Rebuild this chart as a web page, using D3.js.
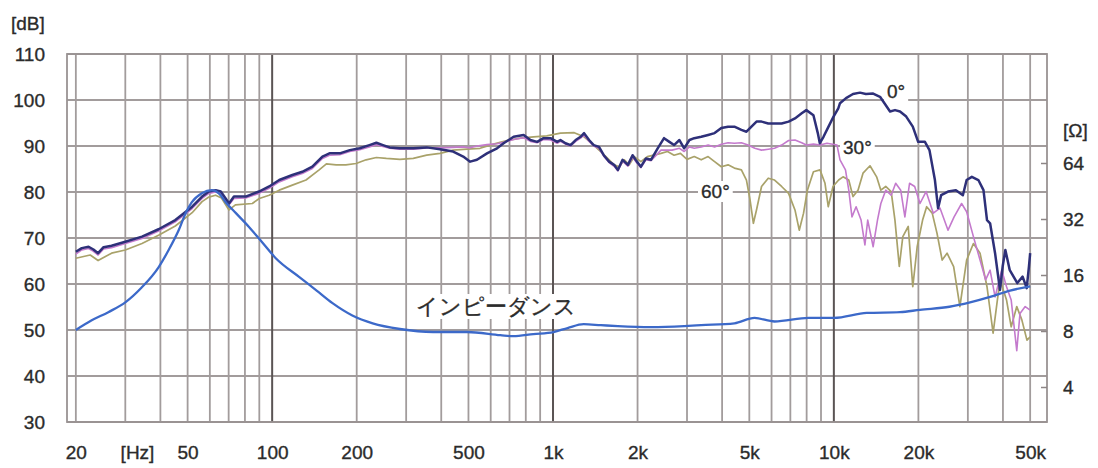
<!DOCTYPE html>
<html>
<head>
<meta charset="utf-8">
<script src="https://cdn.jsdelivr.net/npm/d3@7"></script>
<style>
  html, body { margin: 0; padding: 0; background: #fff; }
  svg { display: block; }
  text { font-family: "Liberation Sans", Arial, sans-serif; fill: #2b2b2b; }
  .heavy { stroke: #2b2b2b; stroke-width: 0.35px; }
</style>
</head>
<body>
<svg id="chart" width="1098" height="468"></svg>
<script>
// On-axis and off-axis sound pressure level, [Hz, dB]
const response0 = [
  [20,67.0],[21,67.8],[22.2,68.1],[23.1,67.5],[24,66.7],[25.1,68.0],[26.8,68.3],[30,69.2],[34.4,70.3],
  [39.4,71.9],[45.2,73.9],[51.9,76.8],[56.3,79.0],[59.5,80.1],[62.9,80.4],[65.6,80.1],[68.3,78.6],
  [70.2,77.5],[73.1,79.0],[80.5,79.0],[89.8,80.1],[97.6,81.2],[106,82.6],[118,83.7],[128,84.4],
  [139,85.5],[151,87.7],[160,88.4],[174,88.4],[189,89.1],[205,89.5],[222,90.2],[235,90.7],[248,90.2],
  [262,89.7],[285,89.5],[318,89.5],[355,89.7],[396,89.3],[441,88.8],[479,87.7],[507,86.6],[536,87.0],
  [582,88.4],[632,89.5],[667,90.6],[724,92.0],[786,92.4],[831,91.3],[878,90.9],[925,91.7],[980,91.7],
  [1035,90.9],[1063,91.3],[1108,90.6],[1155,90.2],[1204,91.3],[1254,92.0],[1290,92.8],[1344,91.3],
  [1396,90.2],[1458,89.8],[1516,88.0],[1584,86.6],[1650,85.9],[1702,84.8],[1769,87.0],[1848,85.9],
  [1920,88.0],[1989,86.6],[2056,85.5],[2143,87.3],[2233,87.0],[2359,89.5],[2485,91.7],[2596,90.9],
  [2698,90.2],[2819,91.3],[2931,89.5],[3061,91.3],[3183,91.7],[3371,92.0],[3567,92.4],[3761,92.8],
  [3975,93.9],[4201,94.2],[4424,94.2],[4686,93.5],[4884,93.1],[5089,94.2],[5303,95.3],[5527,95.3],
  [5840,94.9],[6150,94.9],[6516,94.9],[6900,95.3],[7270,96.0],[7683,97.1],[7980,97.8],[8458,96.7],
  [8766,92.8],[8913,90.6],[9186,92.0],[9572,94.2],[9975,96.4],[10370,98.2],[10516,99.3],[11050,100.4],
  [11700,101.3],[12390,101.6],[13000,101.3],[13800,101.4],[14600,100.7],[15140,99.3],[15850,97.5],
  [16510,97.8],[17200,97.5],[18100,96.4],[19100,94.2],[19960,90.9],[21100,90.9],[21900,89.1],
  [22900,82.6],[23500,76.5],[24100,79.3],[25500,80.1],[27200,80.4],[28800,79.3],[29700,82.6],
  [31000,83.3],[32700,82.6],[34100,80.4],[35100,73.9],[36000,73.2],[37500,66.7],[39040,58.7],
  [39900,63.8],[40800,67.4],[42300,63.0],[45000,60.2],[47000,61.6],[48600,59.1],[49500,63.8],[50000,66.7]
];

const response30 = [
  [20,66.5],[21,67.4],[22.2,67.7],[23.1,67.1],[24,66.3],[25.1,67.6],[26.8,67.9],[30,68.8],[34.4,69.9],
  [39.4,71.5],[45.2,73.5],[51.9,76.4],[56.3,78.6],[59.5,79.7],[62.9,80.0],[65.6,79.7],[68.3,78.2],
  [70.2,77.2],[73.1,78.6],[80.5,78.7],[89.8,79.7],[97.6,80.8],[106,82.2],[118,83.3],[128,84.0],
  [139,85.1],[151,87.3],[160,88.0],[174,88.1],[189,88.8],[205,89.2],[222,89.8],[235,90.3],[248,89.9],
  [262,89.5],[285,89.3],[318,89.3],[355,89.6],[396,89.6],[441,89.7],[479,89.8],[507,89.6],[536,90.0],
  [582,90.3],[632,90.5],[667,90.8],[724,91.4],[786,91.8],[831,91.0],[878,90.7],[925,91.4],[980,91.3],
  [1035,90.6],[1063,91.0],[1108,90.4],[1155,90.0],[1204,91.0],[1254,91.7],[1290,92.4],[1344,91.0],
  [1396,90.0],[1458,89.5],[1516,87.8],[1584,86.4],[1650,85.6],[1702,84.6],[1769,86.7],[1848,85.6],
  [1920,87.6],[1989,86.3],[2056,85.3],[2143,87.0],[2233,86.8],[2424,89.1],[2654,89.1],[2819,89.5],
  [2931,88.8],[3061,89.8],[3183,89.5],[3371,89.8],[3567,90.2],[3761,89.8],[3975,90.4],[4201,90.7],
  [4424,90.6],[4686,90.7],[4950,90.2],[5230,89.5],[5527,89.1],[5840,89.3],[6150,89.5],[6516,90.2],
  [6900,91.2],[7270,91.3],[7683,90.7],[7980,90.2],[8458,90.4],[8926,90.2],[9452,90.6],[10262,90.2],
  [10516,87.0],[11000,84.8],[11300,80.4],[11600,74.6],[12000,76.8],[12500,73.9],[12900,68.5],
  [13200,73.9],[13800,68.1],[14300,73.9],[14700,77.5],[15300,80.4],[16000,79.3],[16600,81.9],
  [17300,80.4],[17900,74.6],[18600,81.9],[19400,81.2],[20260,77.5],[21300,80.1],[22600,75.4],
  [23870,76.5],[25500,71.7],[26800,74.6],[28500,77.5],[29700,75.7],[31400,70.3],[33150,65.2],
  [34700,60.9],[36000,63.0],[37500,57.2],[39600,63.0],[41200,59.4],[42800,56.5],[44800,45.5],
  [46000,53.6],[48000,55.1],[50000,54.3]
];

const response60 = [
  [20,65.6],[22.5,66.3],[24,65.1],[26.8,66.7],[30,67.4],[34.4,68.8],[39.4,70.6],[45.2,72.6],[51.9,75.5],
  [56.3,77.9],[59.5,78.9],[62.9,79.3],[66,78.7],[70.2,76.1],[74,77.2],[85,77.5],[90,78.6],[97.6,79.3],
  [106,80.4],[118,81.5],[132,82.6],[147,84.8],[156,86.1],[169,85.9],[183,85.9],[199,86.2],[216,87.0],
  [235,87.5],[255,87.3],[285,87.1],[318,87.3],[355,88.0],[396,88.4],[441,89.1],[494,89.3],[550,89.5],
  [614,90.4],[685,91.2],[765,91.7],[853,92.0],[950,92.2],[1063,92.8],[1190,92.9],[1290,92.0],
  [1396,90.2],[1478,88.8],[1565,87.3],[1650,85.9],[1722,85.5],[1794,87.0],[1868,85.9],[1947,87.7],
  [2056,86.6],[2167,87.7],[2284,88.0],[2424,88.4],[2557,88.8],[2698,88.0],[2843,88.4],[3000,87.1],
  [3183,87.7],[3371,87.0],[3567,87.7],[3761,86.6],[3975,85.5],[4201,85.9],[4424,85.2],[4686,84.8],
  [4884,82.6],[5030,78.3],[5170,73.2],[5303,76.1],[5527,81.2],[5840,83.0],[6150,82.6],[6516,81.2],
  [6900,79.7],[7270,76.1],[7530,71.7],[7800,75.4],[8050,80.4],[8458,84.4],[8926,84.8],[9300,81.9],
  [9550,76.8],[9930,81.2],[10400,82.6],[10780,83.3],[11300,82.6],[11700,79.0],[12190,80.4],
  [12700,84.1],[13450,85.7],[14200,83.3],[14700,80.4],[15300,81.2],[16000,80.1],[16500,73.9],
  [17100,63.8],[17600,70.3],[18400,72.5],[19100,59.4],[19800,68.1],[20700,73.9],[21400,76.8],
  [22400,75.4],[23300,71.0],[24300,65.2],[25300,66.7],[26700,63.8],[28100,55.1],[29700,65.2],
  [31400,68.8],[33150,66.7],[35100,59.4],[36900,49.3],[39040,60.9],[41200,56.5],[42800,50.7],
  [44800,55.1],[46700,52.2],[48700,47.8],[50000,48.5]
];

// Voice-coil impedance, [Hz, ohm]
const impedance = [
  [20,8.1],[22.7,9.1],[26.1,10.1],[30,11.4],[34.3,13.7],[39.4,17.6],[42.8,21.8],[46.5,27.9],[49.2,34.4],
  [51.7,39.3],[56.2,44.0],[61,45.7],[64.6,44.0],[68.4,39.3],[74.3,34.4],[82.7,29.0],[92.1,24.0],
  [103,19.7],[125,15.6],[144,13.2],[164,11.3],[193,9.7],[228,8.8],[285,8.2],[374,7.9],[494,7.9],
  [649,7.6],[722,7.5],[851,7.7],[1004,7.9],[1127,8.3],[1286,8.7],[1479,8.6],[1702,8.5],[2233,8.4],
  [2931,8.5],[3371,8.6],[4424,8.8],[5218,9.4],[6150,9.0],[8140,9.4],[10000,9.4],[13100,10.0],
  [17200,10.1],[20260,10.4],[25800,10.8],[30540,11.4],[36000,12.2],[42400,13.2],[50000,13.9]
];

// Axis ticks and grid
const dbTicks = [30, 40, 50, 60, 70, 80, 90, 100, 110];
const ohmTicks = [4, 8, 16, 32, 64];
const freqLabels = [20, 50, 100, 200, 500, 1000, 2000, 5000, 10000, 20000, 50000];
const freqGrid = [20,30,40,50,60,70,80,90,100,200,300,400,500,600,700,800,900,
  1000,2000,3000,4000,5000,6000,7000,8000,9000,10000,20000,30000,40000,50000];
const decades = [100, 1000, 10000];

const svg = d3.select("#chart");
const frame = { left: 67, right: 1047, top: 54, bottom: 422 };

const x = d3.scaleLog().domain([18.6, 57400]).range([frame.left, frame.right]);
const y = d3.scaleLinear().domain([30, 110]).range([frame.bottom, frame.top]);
const yOhm = d3.scaleLog().base(2).domain([4, 64]).range([387, 163]);

// grid
const grid = svg.append("g");
grid.selectAll("line.h").data(dbTicks).join("line")
  .attr("x1", frame.left).attr("x2", frame.right)
  .attr("y1", d => y(d)).attr("y2", d => y(d))
  .attr("stroke", "#a29c9c").attr("stroke-width", 1.8);
grid.selectAll("line.v").data(freqGrid.filter(f => !decades.includes(f))).join("line")
  .attr("x1", d => x(d)).attr("x2", d => x(d))
  .attr("y1", frame.top).attr("y2", frame.bottom)
  .attr("stroke", "#a29c9c").attr("stroke-width", 1.8);
grid.selectAll("line.d").data(decades).join("line")
  .attr("x1", d => x(d)).attr("x2", d => x(d))
  .attr("y1", frame.top).attr("y2", frame.bottom)
  .attr("stroke", "#5a5454").attr("stroke-width", 2);
grid.append("rect")
  .attr("x", frame.left).attr("y", frame.top)
  .attr("width", frame.right - frame.left).attr("height", frame.bottom - frame.top)
  .attr("fill", "none").attr("stroke", "#9a9393").attr("stroke-width", 1.8);

// axes
const fmtHz = d => d >= 1000 ? (d / 1000) + "k" : String(d);

const leftAxis = svg.append("g").attr("transform", `translate(${frame.left - 20},0)`)
  .call(d3.axisLeft(y).tickValues(dbTicks).tickSize(0).tickPadding(2));
const bottomAxis = svg.append("g").attr("transform", `translate(0,${frame.bottom + 14})`)
  .call(d3.axisBottom(x).tickValues(freqLabels).tickFormat(fmtHz).tickSize(0).tickPadding(9.5));
const rightAxis = svg.append("g").attr("transform", `translate(${frame.right},0)`)
  .call(d3.axisRight(yOhm).tickValues(ohmTicks).tickFormat(d3.format("d"))
    .tickSizeInner(-6).tickSizeOuter(0).tickPadding(16));

[leftAxis, bottomAxis, rightAxis].forEach(a => {
  a.select(".domain").remove();
  a.selectAll("text").attr("font-size", 19).attr("font-family", '"Liberation Sans", Arial, sans-serif')
    .attr("fill", "#2b2b2b").attr("class", "heavy");
});
leftAxis.selectAll("text").attr("dy", "0.36em");
rightAxis.selectAll("text").attr("dy", "0.36em");
rightAxis.selectAll(".tick line").attr("stroke", "#8d8686").attr("stroke-width", 1.5);

svg.append("text").attr("class", "heavy").attr("x", 11).attr("y", 30).attr("font-size", 19).text("[dB]");
svg.append("text").attr("class", "heavy").attr("x", 137.5).attr("y", 459).attr("text-anchor", "middle").attr("font-size", 19).text("[Hz]");
svg.append("text").attr("class", "heavy").attr("x", frame.right + 16).attr("y", 137).attr("font-size", 19).text("[Ω]");

// in-plot labels on white backing
const labels = svg.append("g");
function tag(tx, ty, str, opts = {}) {
  const g = labels.append("g");
  const t = g.append("text").attr("class", "heavy").attr("x", tx).attr("y", ty)
    .attr("font-size", opts.size || 19)
    .attr("font-family", opts.family || '"Liberation Sans", Arial, sans-serif')
    .text(str);
  const b = t.node().getBBox();
  g.insert("rect", "text")
    .attr("x", b.x - 3).attr("y", b.y).attr("width", b.width + 6).attr("height", b.height)
    .attr("fill", "#fff");
}
tag(887, 98, "0°");
tag(843, 154, "30°");
tag(701, 198, "60°");
tag(416, 314, "インピーダンス", { size: 22, family: '"Noto Sans CJK JP", sans-serif' });

// curves
const spl = d3.line().x(d => x(d[0])).y(d => y(d[1]));
const ohm = d3.line().x(d => x(d[0])).y(d => yOhm(d[1])).curve(d3.curveMonotoneX);

const curves = svg.append("g").attr("fill", "none").attr("stroke-linejoin", "round");
curves.append("path").datum(response60).attr("d", spl).attr("stroke", "#a9a26a").attr("stroke-width", 1.7);
curves.append("path").datum(response30).attr("d", spl).attr("stroke", "#c47acd").attr("stroke-width", 1.6);
curves.append("path").datum(response0).attr("d", spl).attr("stroke", "#2e3079").attr("stroke-width", 2.5);
curves.append("path").datum(impedance).attr("d", ohm).attr("stroke", "#3c69c9").attr("stroke-width", 2.3);
</script>
</body>
</html>
